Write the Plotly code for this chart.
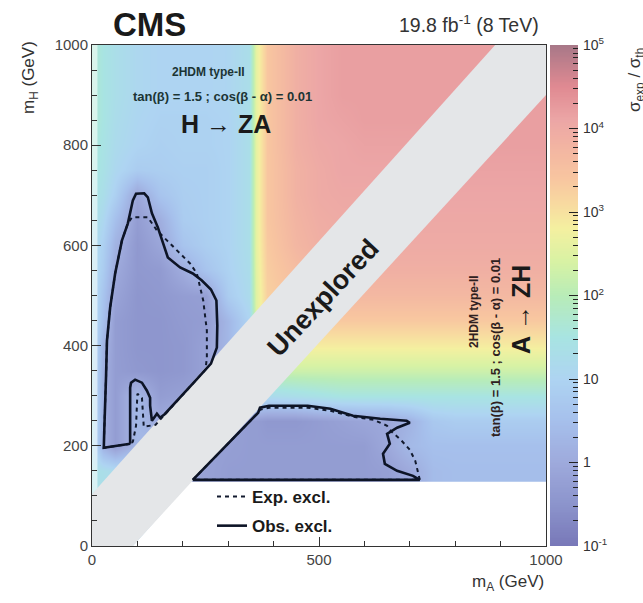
import math
import plotly.graph_objects as go

# ---------------- data ----------------
# heat-map grid: centres in m_A (columns) and m_H (rows), GeV
MA_CENTERS = [0, 25, 50, 100, 150, 200, 250, 300, 345, 362, 385, 450, 500,
              550, 600, 650, 700, 750, 800, 850, 900, 950, 1000]
MH_CENTERS = [0, 50, 100, 150, 200, 250, 300, 350, 400, 450, 500, 550, 600,
              650, 700, 750, 800, 850, 900, 950, 1000]

# log10(sigma/sigma_th), one row per m_H centre (bottom to top)
LOG10_RATIO = [
    [1.4, 1.3, 1.2, 1.1, 0.8, -0.1, -0.2, -0.3, -0.3, -0.3, -0.3, -0.3, -0.3, -0.3, -0.3, -0.25, 0.0, 0.4, 0.45, 0.45, 0.45, 0.45, 0.45],
    [1.4, 1.3, 1.2, 1.1, 0.8, -0.1, -0.2, -0.3, -0.3, -0.3, -0.3, -0.3, -0.3, -0.3, -0.3, -0.25, 0.0, 0.4, 0.45, 0.45, 0.45, 0.45, 0.45],
    [1.4, 1.3, 1.2, 1.1, 0.8, -0.1, -0.2, -0.3, -0.3, -0.3, -0.3, -0.3, -0.3, -0.3, -0.3, -0.25, 0.0, 0.4, 0.45, 0.45, 0.45, 0.45, 0.45],
    [1.4, 1.3, 1.2, 1.1, 0.8, -0.1, -0.2, -0.3, -0.3, -0.3, -0.3, -0.3, -0.3, -0.3, -0.3, -0.25, 0.0, 0.4, 0.45, 0.45, 0.45, 0.45, 0.45],
    [1.3, 0.15, -0.3, 0.3, 0.5, -0.1, -0.2, -0.25, -0.3, -0.3, -0.3, -0.3, -0.3, -0.3, -0.3, -0.05, 0.35, 0.5, 0.5, 0.5, 0.5, 0.5, 0.5],
    [1.4, 0.15, -0.3, 0.3, 0.0, 0.2, 0.0, -0.2, -0.3, -0.3, -0.4, -0.4, -0.3, -0.2, -0.1, -0.05, 0.2, 0.7, 0.8, 0.8, 0.8, 0.8, 0.8],
    [1.3, 0.15, -0.3, 0.3, -0.3, -0.2, -0.1, 0.5, 1.3, 1.3, 1.2, 1.3, 1.4, 1.5, 1.5, 1.5, 1.5, 1.5, 1.5, 1.5, 1.5, 1.5, 1.5],
    [1.3, 0.15, -0.3, -0.4, -0.45, -0.4, -0.2, 0.3, 1.0, 2.2, 2.2, 2.25, 2.25, 2.25, 2.25, 2.25, 2.25, 2.25, 2.25, 2.25, 2.25, 2.25, 2.25],
    [1.3, 0.25, -0.3, -0.45, -0.45, -0.4, -0.2, 0.3, 1.0, 2.5, 2.85, 2.85, 2.85, 2.85, 2.85, 2.85, 2.85, 2.85, 2.85, 2.85, 2.85, 2.85, 2.85],
    [1.3, 0.5, -0.3, -0.45, -0.45, -0.35, -0.3, 0.3, 1.0, 2.5, 3.25, 3.3, 3.35, 3.35, 3.35, 3.35, 3.35, 3.35, 3.35, 3.35, 3.35, 3.35, 3.35],
    [1.3, 0.6, -0.15, -0.45, -0.4, -0.3, -0.25, 0.8, 1.2, 2.5, 3.25, 3.5, 3.7, 3.7, 3.7, 3.7, 3.7, 3.7, 3.7, 3.7, 3.7, 3.7, 3.7],
    [1.3, 0.8, 0.0, -0.4, -0.35, 0.05, 0.6, 0.95, 1.25, 2.55, 3.3, 3.6, 3.8, 3.9, 3.9, 3.9, 3.9, 3.9, 3.9, 3.9, 3.9, 3.9, 3.9],
    [1.3, 0.9, 0.2, -0.4, -0.1, 0.6, 0.85, 1.0, 1.3, 2.6, 3.35, 3.75, 3.9, 4.0, 4.0, 4.0, 4.0, 4.0, 4.0, 4.0, 4.0, 4.0, 4.0],
    [1.4, 1.1, 0.5, -0.3, 0.1, 0.8, 0.9, 1.0, 1.3, 2.6, 3.4, 3.8, 3.95, 4.0, 4.0, 4.05, 4.05, 4.05, 4.05, 4.05, 4.05, 4.05, 4.05],
    [1.5, 1.3, 0.9, -0.1, 0.6, 0.85, 0.9, 1.0, 1.3, 2.6, 3.4, 3.85, 4.0, 4.05, 4.05, 4.1, 4.1, 4.1, 4.1, 4.1, 4.1, 4.1, 4.1],
    [1.6, 1.4, 1.1, 0.8, 0.85, 0.9, 0.9, 1.0, 1.3, 2.6, 3.4, 3.85, 4.0, 4.1, 4.1, 4.1, 4.1, 4.1, 4.15, 4.15, 4.15, 4.15, 4.15],
    [1.65, 1.45, 1.2, 1.0, 0.9, 0.95, 0.95, 1.0, 1.3, 2.6, 3.4, 3.9, 4.05, 4.1, 4.15, 4.15, 4.15, 4.15, 4.15, 4.2, 4.2, 4.2, 4.2],
    [1.7, 1.5, 1.25, 1.05, 0.95, 0.95, 0.95, 1.0, 1.3, 2.6, 3.4, 3.9, 4.1, 4.15, 4.2, 4.2, 4.2, 4.2, 4.2, 4.2, 4.2, 4.2, 4.2],
    [1.7, 1.5, 1.3, 1.1, 1.0, 1.0, 1.0, 1.05, 1.3, 2.6, 3.4, 3.9, 4.1, 4.2, 4.2, 4.2, 4.2, 4.2, 4.2, 4.2, 4.2, 4.2, 4.2],
    [1.7, 1.5, 1.3, 1.1, 1.0, 1.0, 1.0, 1.05, 1.3, 2.6, 3.4, 3.9, 4.1, 4.2, 4.2, 4.2, 4.2, 4.2, 4.2, 4.2, 4.2, 4.2, 4.2],
    [1.7, 1.5, 1.3, 1.1, 1.0, 1.0, 1.0, 1.05, 1.3, 2.6, 3.4, 3.9, 4.1, 4.2, 4.2, 4.2, 4.2, 4.2, 4.2, 4.2, 4.2, 4.2, 4.2],
]

# "Unexplored" diagonal band (m_A, m_H corners)
BAND_MA = [0, 90, 1000, 1000, 888, 0]
BAND_MH = [0, 0, 900, 1000, 1000, 104]
# region without scan points (below m_H ~ 128 on the A->ZH side)
NOSCAN_MA = [90, 1000, 1000, 216]
NOSCAN_MH = [0, 0, 128, 128]
# pale strip at the very left edge
EDGE_MA = [0, 12, 12, 0]
EDGE_MH = [104, 116, 1000, 1000]

# exclusion contours
HZA_OBS_MA = [84, 50, 26, 27, 29, 31, 33, 40, 51, 66, 79, 90, 97, 115, 123, 132, 145, 154, 167, 194,
              222, 242, 262, 274, 276, 275, 262, 230, 195, 160, 150, 143, 132, 128, 128, 121, 110, 95, 86, 84, 84]
HZA_OBS_MH = [204, 200, 196, 230, 276, 340, 410, 476, 544, 610, 644, 690, 703, 704, 696, 664, 636, 610, 576, 556,
              544, 530, 512, 490, 440, 396, 364, 332, 297, 263, 256, 264, 250, 280, 296, 310, 326, 332, 326, 316, 204]
HZA_EXP_MA = [84, 50, 26, 27, 29, 31, 33, 40, 51, 66, 79, 88, 123, 143, 165, 194, 216, 231, 238, 245,
              253, 253, 250, 230, 195, 160, 140, 114, 110, 100, 97, 90, 84]
HZA_EXP_MH = [204, 200, 196, 230, 276, 340, 410, 476, 544, 610, 644, 656, 656, 630, 610, 584, 564, 544, 516, 490,
              430, 376, 352, 332, 297, 263, 242, 238, 296, 304, 240, 208, 204]
AZH_OBS_MA = [222, 366, 370, 390, 475, 525, 575, 635, 693, 700, 672, 650, 656, 641, 645, 672, 707, 722, 222]
AZH_OBS_MH = [132, 266, 276, 280, 280, 274, 260, 254, 250, 246, 236, 224, 204, 184, 164, 150, 140, 132, 132]
AZH_EXP_MA = [222, 366, 370, 390, 475, 525, 575, 620, 650, 660, 680, 700, 712, 718, 722, 222]
AZH_EXP_MH = [132, 266, 272, 276, 276, 270, 258, 252, 240, 228, 212, 192, 170, 150, 132, 132]

# colour-bar ticks
CB_MAJOR = [0.1, 1, 10, 100, 1000, 10000, 100000]
CB_LABELS = ["10<sup>-1</sup>", "1", "10", "10<sup>2</sup>", "10<sup>3</sup>", "10<sup>4</sup>", "10<sup>5</sup>"]

# ---------------- style ----------------
FONT = "Liberation Sans, Arial, Helvetica, sans-serif"
W, H = 643, 603
L, R, T, B = 92, 0, 45, 57
PW, PH = W - L - R, H - T - B
PLOT_RIGHT = 546          # right edge of the m_A axis (px)
CB_LEFT, CB_RIGHT = 550, 578
CB_XRANGE = [-0.5, 1.5]
ZMIN, ZMAX = -1, 5


def px(x, y):
    return (x - L) / PW, (H - B - y) / PH


stops = [(-1, "#7878b8"), (-0.5, "#8c94cc"), (0, "#9eaadc"), (0.5, "#a6c0ec"),
         (1.0, "#aed4f2"), (1.5, "#a8e4e2"), (2.0, "#b8ecb8"), (2.4, "#d8f2a4"),
         (2.8, "#f4f0a0"), (3.1, "#f8daa0"), (3.4, "#f8c6a0"), (3.8, "#f2b4a2"),
         (4.1, "#eca6a6"), (4.5, "#e08a92"), (5.0, "#a87888")]
COLORSCALE = [[(v - ZMIN) / (ZMAX - ZMIN), c] for v, c in stops]

fig = go.Figure()

fig.add_trace(go.Heatmap(
    x=MA_CENTERS, y=MH_CENTERS, z=LOG10_RATIO, zmin=ZMIN, zmax=ZMAX,
    zsmooth="best", colorscale=COLORSCALE, hoverinfo="skip", showscale=False,
    xaxis="x", yaxis="y"))

for xs, ys, col in [(NOSCAN_MA, NOSCAN_MH, "white"),
                    (BAND_MA, BAND_MH, "#e4e6e8"),
                    (EDGE_MA, EDGE_MH, "rgba(255,255,255,0.55)")]:
    fig.add_trace(go.Scatter(x=xs, y=ys, fill="toself", fillcolor=col, mode="lines",
                             line=dict(width=0), hoverinfo="skip", showlegend=False))

fig.add_trace(go.Scatter(
    x=HZA_EXP_MA + [None] + AZH_EXP_MA, y=HZA_EXP_MH + [None] + AZH_EXP_MH,
    mode="lines", line=dict(color="#121a2e", width=2, dash="4px,4px"),
    name="<b>Exp. excl.</b>", legendgroup="e", hoverinfo="skip"))
fig.add_trace(go.Scatter(
    x=HZA_OBS_MA + [None] + AZH_OBS_MA, y=HZA_OBS_MH + [None] + AZH_OBS_MH,
    mode="lines", line=dict(color="#0d1426", width=2.6),
    name="<b>Obs. excl.</b>", legendgroup="o", hoverinfo="skip"))

# colour bar drawn as its own small heat map on a log axis
cb_levels = [ZMIN + i * 0.02 for i in range(int((ZMAX - ZMIN) / 0.02) + 1)]
fig.add_trace(go.Heatmap(
    x=[0, 1], y=[10 ** v for v in cb_levels], z=[[v, v] for v in cb_levels],
    zmin=ZMIN, zmax=ZMAX, colorscale=COLORSCALE, showscale=False,
    hoverinfo="skip", xaxis="x2", yaxis="y2"))

cb_minor = []
for m in CB_MAJOR[:-1]:
    for k in range(2, 10):
        cb_minor.append(m * k)

anns = []


def text(x, y, s, size, angle=0, color="#1a1a1a", xanchor="center", yanchor="middle"):
    xp, yp = px(x, y)
    anns.append(dict(x=xp, y=yp, xref="paper", yref="paper", text=s, showarrow=False,
                     textangle=angle, xanchor=xanchor, yanchor=yanchor,
                     font=dict(family=FONT, size=size, color=color)))


text(111, 24, "<b>CMS</b>", 33, xanchor="left")
text(541, 24, "19.8 fb<sup>-1</sup> (8 TeV)", 19.5, color="#333", xanchor="right")
text(546, 583, "m<sub>A</sub> (GeV)", 17, color="#333", xanchor="right")
text(30, 78, "m<sub>H</sub> (GeV)", 17, angle=-90, color="#333")
# colour-bar title; it runs off the right page edge as in the original
text(636, 80, "σ<sub>exp</sub> / σ<sub>th</sub>", 17, angle=-90, color="#333")

text(208, 72, "<b>2HDM type-II</b>", 12, color="#1c3434")
text(222, 97, "<b>tan(β) = 1.5 ; cos(β - α) = 0.01</b>", 13, color="#1c3434")
text(226, 124, "<b>H → ZA</b>", 25)
text(323, 298, "<b>Unexplored</b>", 27, angle=-47)
text(474, 312, "<b>2HDM type-II</b>", 12, angle=-90, color="#2e2020")
text(495, 348, "<b>tan(β) = 1.5 ; cos(β - α) = 0.01</b>", 13, angle=-90, color="#2e2020")
text(521, 310, "<b>A → ZH</b>", 25, angle=-90)

lx, ly = px(212, 479)
fig.update_layout(
    width=W, height=H, margin=dict(l=L, r=R, t=T, b=B, pad=0, autoexpand=False),
    paper_bgcolor="white", plot_bgcolor="rgba(0,0,0,0)",
    font=dict(family=FONT, color="#333"),
    annotations=anns,
    showlegend=True,
    legend=dict(x=lx, y=ly, xanchor="left", yanchor="top", bgcolor="rgba(0,0,0,0)",
                font=dict(family=FONT, size=17, color="#1a1a1a"),
                traceorder="grouped", tracegroupgap=4),
    xaxis=dict(domain=[0, (PLOT_RIGHT - L) / PW], range=[0, 1000], tickmode="linear", tick0=0,
               dtick=500, ticks="inside", anchor="y",
               ticklen=9, tickcolor="#333", showline=True, linecolor="#333", linewidth=1,
               mirror=True, showgrid=False, zeroline=False,
               minor=dict(dtick=100, ticks="inside", ticklen=5, tickcolor="#333", showgrid=False),
               tickfont=dict(family=FONT, size=15, color="#444")),
    yaxis=dict(range=[0, 1000], tickmode="linear", tick0=0, dtick=200, ticks="inside",
               anchor="x",
               ticklen=9, tickcolor="#333", showline=True, linecolor="#333", linewidth=1,
               mirror=True, showgrid=False, zeroline=False,
               minor=dict(dtick=50, ticks="inside", ticklen=5, tickcolor="#333", showgrid=False),
               tickfont=dict(family=FONT, size=15, color="#444")),
    xaxis2=dict(domain=[(CB_LEFT - L) / PW, (CB_RIGHT - L) / PW], range=CB_XRANGE,
                visible=False, anchor="y2", fixedrange=True),
    yaxis2=dict(type="log", range=[ZMIN, ZMAX], anchor="x2", side="right", ticks="inside",
                tickmode="array", tickvals=CB_MAJOR, ticktext=CB_LABELS,
                ticklen=9, tickwidth=1, tickcolor="#222", showline=False, showgrid=False,
                zeroline=False, fixedrange=True, ticklabelstandoff=4,
                minor=dict(tickmode="array", tickvals=cb_minor, ticks="inside", ticklen=5,
                           tickcolor="#222", showgrid=False),
                tickfont=dict(family=FONT, size=14, color="#333")),
)

fig.write_html("out.html")
